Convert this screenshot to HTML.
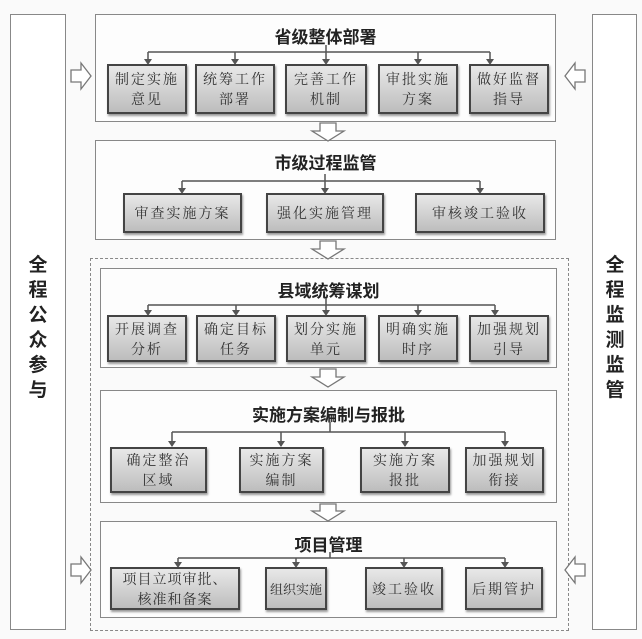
<!DOCTYPE html>
<html><head><meta charset="utf-8"><style>
body{margin:0;width:642px;height:639px;background:#fafafa;position:relative;overflow:hidden;font-family:"Liberation Sans","Noto Sans CJK SC",sans-serif;}
.a{position:absolute;box-sizing:border-box}
.side{border:1.5px solid #888;background:#fff}
.vt{position:absolute;font-weight:bold;font-size:19px;color:#222;line-height:25px;text-align:center;width:30px}
.panel{border:1.5px solid #888;background:#fdfdfd}
.t{position:absolute;left:0;right:0;text-align:center;font-weight:bold;font-size:17px;color:#222}
.b{position:absolute;box-sizing:border-box;border:2px solid #444;background:linear-gradient(#e8e8e8,#bdbdbd);box-shadow:1px 2px 2px #999;display:flex;align-items:center;justify-content:center;text-align:center;font-family:"Noto Serif CJK SC","Liberation Serif",serif;font-size:14px;letter-spacing:2px;color:#333;line-height:20px;white-space:nowrap}
</style></head><body>
<div class="a side" style="left:10px;top:14px;width:56px;height:616px"></div>
<div class="vt" style="left:23px;top:253px">全<br>程<br>公<br>众<br>参<br>与</div>
<div class="a side" style="left:592px;top:14px;width:45px;height:616px"></div>
<div class="vt" style="left:600px;top:253px">全<br>程<br>监<br>测<br>监<br>管</div>

<div class="a" style="left:90px;top:258px;width:479px;height:373px;border:1.5px dashed #888"></div>

<div class="a panel" style="left:95px;top:14px;width:461px;height:108px"><div class="t" style="top:8px">省级整体部署</div></div>
<div class="a panel" style="left:95px;top:140px;width:461px;height:100px"><div class="t" style="top:8px">市级过程监管</div></div>
<div class="a panel" style="left:100px;top:268px;width:457px;height:100px"><div class="t" style="top:8px">县域统筹谋划</div></div>
<div class="a panel" style="left:100px;top:390px;width:457px;height:113px"><div class="t" style="top:10px">实施方案编制与报批</div></div>
<div class="a panel" style="left:100px;top:521px;width:457px;height:97px"><div class="t" style="top:9px">项目管理</div></div>

<svg class="a" style="left:0;top:0" width="642" height="639">
<g stroke="#555" stroke-width="1.5" fill="none">
<path d="M148,52H490M148,52V63M235,52V63M326,52V63M418,52V63M490,52V63" />
<path d="M326,45V52"/>
<path d="M182,181H480M182,181V192M325,181V192M480,181V192M325,174V181"/>
<path d="M148,305H495M148,305V314M236,305V314M326,305V314M418,305V314M495,305V314M326,298V305"/>
<path d="M172,432H505M172,432V446M281,432V446M405,432V446M505,432V446M330,422V432"/>
<path d="M178,558H505M178,558V566M296,558V566M404,558V566M505,558V566M330,552V558"/>
</g>
<g fill="#555">
<path d="M144,59h8l-4,6z M231,59h8l-4,6z M322,59h8l-4,6z M414,59h8l-4,6z M486,59h8l-4,6z"/>
<path d="M178,188h8l-4,6z M321,188h8l-4,6z M476,188h8l-4,6z"/>
<path d="M144,310h8l-4,6z M232,310h8l-4,6z M322,310h8l-4,6z M414,310h8l-4,6z M491,310h8l-4,6z"/>
<path d="M168,441h8l-4,6z M277,441h8l-4,6z M401,441h8l-4,6z M501,441h8l-4,6z"/>
<path d="M174,562h8l-4,6z M292,562h8l-4,6z M400,562h8l-4,6z M501,562h8l-4,6z"/>
</g>
<g fill="#fff" stroke="#777" stroke-width="1.3">
<path d="M320,123h16v8h8l-16,10l-16,-10h8z"/>
<path d="M320,241h16v8h8l-16,10l-16,-10h8z"/>
<path d="M320,369h16v8h8l-16,10l-16,-10h8z"/>
<path d="M320,504h16v7h8l-16,10l-16,-10h8z"/>
<path d="M71,70h10v-7l10,13l-10,13v-7h-10z"/>
<path d="M71,564h10v-7l10,13l-10,13v-7h-10z"/>
<path d="M585,70h-10v-7l-10,13l10,13v-7h10z"/>
<path d="M585,564h-10v-7l-10,13l10,13v-7h10z"/>
</g>
</svg>

<div class="b" style="left:107px;top:64px;width:80px;height:50px">制定实施<br>意见</div>
<div class="b" style="left:195px;top:64px;width:80px;height:50px">统筹工作<br>部署</div>
<div class="b" style="left:285px;top:64px;width:82px;height:50px">完善工作<br>机制</div>
<div class="b" style="left:378px;top:64px;width:80px;height:50px">审批实施<br>方案</div>
<div class="b" style="left:469px;top:64px;width:80px;height:50px">做好监督<br>指导</div>

<div class="b" style="left:123px;top:193px;width:119px;height:40px">审查实施方案</div>
<div class="b" style="left:266px;top:193px;width:118px;height:40px">强化实施管理</div>
<div class="b" style="left:415px;top:193px;width:130px;height:40px">审核竣工验收</div>

<div class="b" style="left:107px;top:315px;width:80px;height:47px">开展调查<br>分析</div>
<div class="b" style="left:196px;top:315px;width:80px;height:47px">确定目标<br>任务</div>
<div class="b" style="left:286px;top:315px;width:80px;height:47px">划分实施<br>单元</div>
<div class="b" style="left:378px;top:315px;width:80px;height:47px">明确实施<br>时序</div>
<div class="b" style="left:469px;top:315px;width:80px;height:47px">加强规划<br>引导</div>

<div class="b" style="left:110px;top:447px;width:97px;height:46px">确定整治<br>区域</div>
<div class="b" style="left:239px;top:447px;width:85px;height:46px">实施方案<br>编制</div>
<div class="b" style="left:360px;top:447px;width:90px;height:46px">实施方案<br>报批</div>
<div class="b" style="left:465px;top:447px;width:79px;height:46px">加强规划<br>衔接</div>

<div class="b" style="left:110px;top:567px;width:130px;height:43px;letter-spacing:1px">项目立项审批、<br>核准和备案</div>
<div class="b" style="left:265px;top:567px;width:62px;height:43px;letter-spacing:0;font-size:13px">组织实施</div>
<div class="b" style="left:365px;top:567px;width:78px;height:43px">竣工验收</div>
<div class="b" style="left:465px;top:567px;width:78px;height:43px">后期管护</div>
</body></html>
